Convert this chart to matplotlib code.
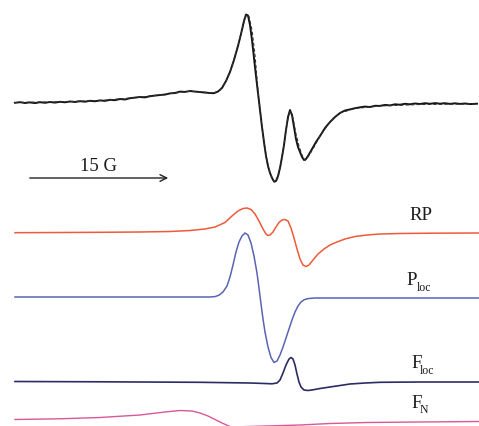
import numpy as np
import matplotlib
matplotlib.use("Agg")
import matplotlib.pyplot as plt

plt.rcParams['font.family'] = ['Liberation Serif', 'DejaVu Serif']

# field positions (a.u.) and signal heights (a.u., up = positive)
exp_field = [15, 20, 25, 30, 35, 40, 45, 50, 55, 60, 65, 70, 75, 80, 85, 90, 95, 100,
             105, 110, 115, 120, 125, 130, 135, 140, 145, 150, 155, 160, 165, 170, 175,
             180, 185, 190, 195, 200, 205, 210, 214, 218, 222, 226, 230, 234, 238, 241,
             244, 246, 248, 250, 252, 254, 256, 258, 260, 262, 264, 266, 268, 270, 272,
             274, 276, 278, 280, 282, 284, 286, 288, 290, 292, 294, 296, 298, 300, 302,
             304, 306, 308, 312, 316, 320, 325, 330, 335, 340, 345, 350, 355, 360, 365,
             370, 375, 380, 385, 390, 395, 400, 405, 410, 415, 420, 425, 430, 435, 440,
             445, 450, 455, 460, 465, 470, 477]
exp_y = [102.8, 102.2, 103.0, 102.4, 103.1, 102.2, 102.8, 102.0, 102.6, 101.8, 102.3,
         101.5, 102.0, 101.2, 101.7, 100.8, 101.3, 100.4, 100.9, 99.8, 100.2, 99.0, 99.5,
         98.2, 97.6, 97.0, 97.4, 96.2, 95.6, 95.0, 94.6, 93.4, 93.0, 91.6, 91.9, 91.0,
         91.6, 92.0, 92.6, 93.0, 93.2, 91.5, 88.0, 81.0, 72.0, 60.0, 46.0, 34.0, 21.0,
         14.5, 15.5, 25.0, 40.0, 58.0, 76.0, 93.0, 110.0, 127.0, 142.0, 156.0, 166.0,
         173.0, 178.0, 181.5, 181.0, 176.0, 168.0, 157.0, 145.0, 130.0, 117.0, 110.0,
         115.0, 127.0, 139.0, 147.0, 152.0, 157.0, 160.0, 159.0, 156.0, 149.0, 142.0,
         136.0, 128.0, 122.0, 117.0, 113.0, 110.5, 109.4, 108.2, 107.3, 106.6, 107.0,
         105.8, 105.9, 104.9, 105.4, 104.3, 104.7, 103.8, 104.3, 103.5, 104.0, 103.2,
         103.8, 103.1, 103.7, 103.2, 103.9, 103.3, 103.9, 103.5, 104.1, 103.7]
exp_signal = [104 - v for v in exp_y]

fit_field = [15, 60, 100, 140, 170, 190, 205, 214, 220, 226, 232, 238, 242, 245, 247,
             249, 252, 255, 258, 261, 264, 267, 270, 273, 275, 278, 281, 284, 287, 290,
             293, 296, 299, 302, 305, 308, 313, 320, 330, 340, 355, 380, 420, 477]
fit_y = [102.5, 101.8, 100.6, 97.2, 93.6, 91.2, 92.2, 93.0, 90.0, 81.5, 66.0, 45.0,
         30.0, 18.0, 14.5, 16.5, 30.0, 55.0, 90.0, 119.0, 143.0, 161.0, 173.0, 180.0,
         182.5, 178.0, 163.0, 145.0, 123.0, 110.5, 118.0, 134.0, 146.0, 155.0, 160.5,
         157.0, 149.0, 136.0, 122.0, 113.0, 108.5, 106.0, 104.5, 104.0]
fit_signal = [104 - v for v in fit_y]

rp_field = [15, 60, 100, 140, 170, 190, 205, 215, 225, 232, 238, 243, 247, 251, 255,
            259, 263, 266, 268, 270, 273, 276, 279, 282, 285, 288, 291, 294, 297, 300,
            303, 306, 309, 313, 318, 324, 330, 337, 345, 355, 367, 380, 400, 430, 479]
rp_y = [232.7, 232.5, 232.3, 232.0, 231.5, 230.5, 229.0, 227.0, 222.5, 216.0, 211.0,
        208.5, 208.0, 209.5, 214.0, 221.0, 229.0, 234.0, 235.5, 235.0, 232.0, 227.0,
        222.5, 220.0, 219.5, 221.0, 228.0, 238.0, 249.0, 259.0, 265.0, 266.5, 265.0,
        260.0, 254.0, 249.0, 245.0, 242.0, 239.0, 236.5, 235.0, 234.0, 233.5, 233.2, 233.0]
rp_signal = [233 - v for v in rp_y]

ploc_field = [15, 100, 180, 210, 215, 219, 223, 227, 230, 233, 236, 239, 242, 245, 248,
              251, 254, 257, 259, 261, 263, 265, 268, 271, 274, 277, 280, 283, 286, 289,
              292, 295, 298, 301, 304, 308, 315, 400, 479]
ploc_y = [297.0, 297.0, 297.0, 297.0, 296.6, 295.2, 292.0, 286.0, 277.0, 265.0, 252.0,
          242.0, 236.0, 233.0, 235.0, 243.0, 256.0, 273.0, 288.0, 304.0, 319.0, 332.0,
          347.0, 357.5, 362.5, 361.0, 355.0, 347.0, 338.0, 329.0, 320.0, 312.0, 306.0,
          302.0, 299.8, 298.6, 298.0, 298.0, 298.0]
ploc_signal = [298 - v for v in ploc_y]

floc_field = [15, 100, 200, 250, 265, 272, 277, 280, 283, 286, 289, 291, 293, 295, 297,
              299, 301, 304, 308, 313, 320, 330, 340, 350, 365, 380, 420, 479]
floc_y = [381.5, 381.8, 382.3, 383.0, 383.5, 383.8, 383.0, 380.0, 373.0, 365.0, 359.0,
          357.5, 359.0, 365.0, 374.0, 382.0, 387.0, 390.0, 390.5, 389.8, 388.5, 387.0,
          385.5, 384.0, 383.0, 382.3, 382.0, 382.0]
floc_signal = [382 - v for v in floc_y]

fn_field = [15, 60, 100, 140, 165, 180, 192, 200, 208, 215, 222, 230, 240, 255, 270, 285,
            300, 330, 367, 420, 479]
fn_y = [419.5, 418.8, 417.5, 415.0, 412.0, 410.5, 411.0, 413.0, 416.0, 419.5, 423.0,
        426.5, 429.0, 430.0, 429.0, 427.0, 425.0, 423.5, 422.5, 422.0, 421.5]
fn_signal = [421 - v for v in fn_y]

fig = plt.figure(figsize=(4.79, 4.26), dpi=100)
ax = fig.add_axes([0, 0, 1, 1])
ax.set_xlim(0, 479)
ax.set_ylim(-426, 0)
ax.axis('off')

# experimental trace + dashed fit
ax.plot(exp_field, np.array(exp_signal) - 104, color='#151515', lw=1.4)
ax.plot(fit_field, np.array(fit_signal) - 104, color='#333333', lw=0.8, ls=(0, (3, 2)))

# components, stacked
ax.plot(rp_field, np.array(rp_signal) - 233, color='#ee5a3a', lw=1.1)
ax.plot(ploc_field, np.array(ploc_signal) - 298, color='#5a64b2', lw=1.1)
ax.plot(floc_field, np.array(floc_signal) - 382, color='#2c2c64', lw=1.2)
ax.plot(fn_field, np.array(fn_signal) - 421, color='#d8589a', lw=1.0)

# scale bar
ax.annotate('', xy=(171, -178), xytext=(27, -178),
            arrowprops=dict(arrowstyle='->', color='#222222', lw=1.0,
                            mutation_scale=12))
ax.text(99, -171, '15 G', ha='center', va='baseline', fontsize=13.5, color='#1a1a1a')

# labels (main letter + small subscript)
lab = dict(ha='left', va='baseline', fontsize=13.5, color='#1a1a1a')
sub = dict(ha='left', va='baseline', fontsize=8.5, color='#1a1a1a')
ax.text(409, -220, 'RP', **lab)
ax.text(406, -285, 'P', **lab)
ax.text(417, -291, 'loc', **sub)
ax.text(411, -368, 'F', **lab)
ax.text(420, -374, 'loc', **sub)
ax.text(411, -408, 'F', **lab)
ax.text(420, -413, 'N', **sub)

fig.savefig('out.png', dpi=100)
